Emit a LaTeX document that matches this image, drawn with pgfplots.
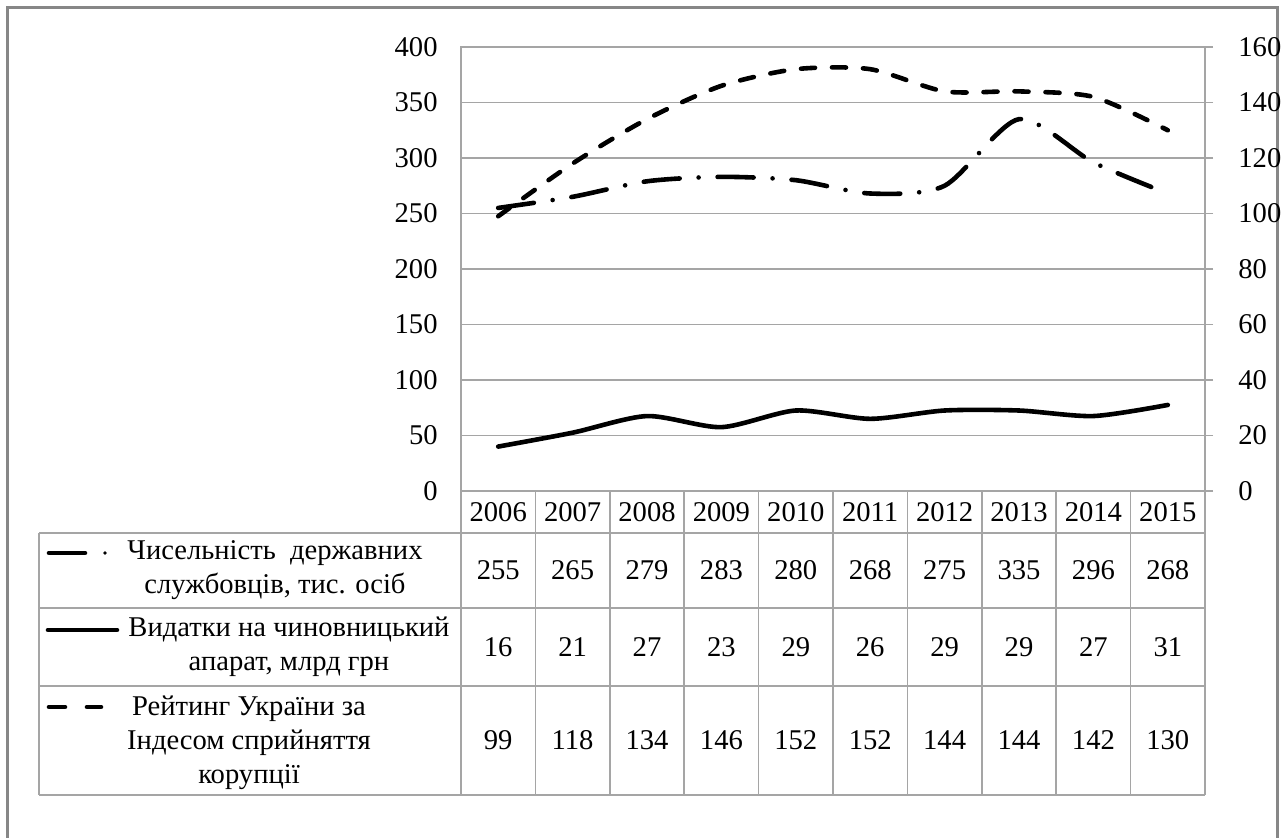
\documentclass[border=0pt]{standalone}
\usepackage{fontspec}
\setmainfont{Liberation Serif}
\usepackage{pgfplots}
\usepackage{pgfplotstable}
\pgfplotsset{compat=1.18}
\definecolor{gridgray}{RGB}{165,165,165}
\definecolor{framegray}{RGB}{135,135,135}

\pgfplotstableread{
year staff exp rank
2006 255 16 99
2007 265 21 118
2008 279 27 134
2009 283 23 146
2010 280 29 152
2011 268 26 152
2012 275 29 144
2013 335 29 144
2014 296 27 142
2015 268 31 130
}\data

\begin{document}
\begin{tikzpicture}[font=\fontsize{14.3}{17}\selectfont]
\useasboundingbox (0,0) rectangle (641pt,419pt);
\fill[white] (0,0) rectangle (641pt,419pt);
\draw[framegray, line width=1.5pt] (3.5pt,-5pt) rectangle (638.5pt,415pt);

\pgfplotsset{
  base/.style={
    at={(230.5pt,173.5pt)}, anchor=south west,
    scale only axis, width=372pt, height=222pt,
    xmin=0, xmax=10, clip=false,
    /pgf/number format/assume math mode=true,
    tick label style={font=\fontsize{14.3}{17}\selectfont},
  }
}

\begin{axis}[base,
  ymin=0, ymax=400, ytick={0,50,...,400},
  xtick=\empty,
  ymajorgrids, grid style={gridgray, line width=0.75pt},
  axis line style={gridgray, line width=0.75pt},
  major tick length=0pt,
  yticklabel style={anchor=east, inner sep=0pt, xshift=-11.5pt},
  nodes near coords align=center,
  every node near coord/.append style={anchor=center, inner sep=0pt, font=\fontsize{14.3}{17}\selectfont, text=black},
]
\addplot[black, line width=2.3pt, smooth, tension=0.45, line cap=round,
  dash pattern=on 18pt off 9.5pt on 0pt off 9.5pt]
  table[x expr=\coordindex+0.5, y=staff] {\data};
% table values
\addplot[draw=none, mark=none, nodes near coords, point meta=explicit symbolic]
  table[x expr=\coordindex+0.5, y expr=-18.9, meta=year] {\data};
\addplot[draw=none, mark=none, nodes near coords, point meta=explicit symbolic]
  table[x expr=\coordindex+0.5, y expr=-71.6, meta=staff] {\data};
\addplot[draw=none, mark=none, nodes near coords, point meta=explicit symbolic]
  table[x expr=\coordindex+0.5, y expr=-140.5, meta=exp] {\data};
\addplot[draw=none, mark=none, nodes near coords, point meta=explicit symbolic]
  table[x expr=\coordindex+0.5, y expr=-224.8, meta=rank] {\data};
\end{axis}

\begin{axis}[base,
  ymin=0, ymax=160, ytick={0,20,...,160},
  axis y line*=right, axis x line=none,
  axis line style={gridgray, line width=0.75pt},
  ytick style={gridgray, line width=0.75pt},
  major tick length=4pt, tick align=outside,
  yticklabel style={anchor=west, inner sep=0pt, xshift=12.5pt, text width=22pt, align=left},
]
\addplot[black, line width=2.3pt, smooth, tension=0.45, line cap=round]
  table[x expr=\coordindex+0.5, y=exp] {\data};
\addplot[black, line width=2.3pt, smooth, tension=0.45, line cap=round,
  dash pattern=on 7pt off 8.5pt]
  table[x expr=\coordindex+0.5, y=rank] {\data};
\end{axis}

% data table grid
\begin{scope}[gridgray, line width=0.75pt]
\draw (19.5pt,152.5pt) -- (602.5pt,152.5pt);
\draw (19.5pt,115pt) -- (602.5pt,115pt);
\draw (19.5pt,76pt) -- (602.5pt,76pt);
\draw (19.5pt,21.5pt) -- (602.5pt,21.5pt);
\draw (19.5pt,152.5pt) -- (19.5pt,21.5pt);
\foreach \i in {0,...,10} \draw ({230.5pt+37.2pt*\i},173.5pt) -- ({230.5pt+37.2pt*\i},21.5pt);
\end{scope}

% legend keys
\draw[black, line width=2.3pt, line cap=round] (24.5pt,142.5pt) -- (42.5pt,142.5pt);
\fill[black] (52.5pt,142.5pt) circle (0.9pt);
\draw[black, line width=2.3pt, line cap=round] (24pt,104pt) -- (58.5pt,104pt);
\draw[black, line width=2.3pt, line cap=round] (24.5pt,65.5pt) -- (32.5pt,65.5pt);
\draw[black, line width=2.3pt, line cap=round] (43.5pt,65.5pt) -- (50.5pt,65.5pt);

% legend texts
\node[align=center, inner sep=0pt] at (137.5pt,133.75pt) {Чисельність\ \ державних\\службовців, тис. осіб};
\node[align=center, inner sep=0pt] at (144.5pt,95.5pt) {Видатки на чиновницький\\апарат, млрд грн};
\node[align=center, inner sep=0pt] at (124.5pt,47.5pt) {Рейтинг України за\\Індесом сприйняття\\корупції};
\end{tikzpicture}
\end{document}
